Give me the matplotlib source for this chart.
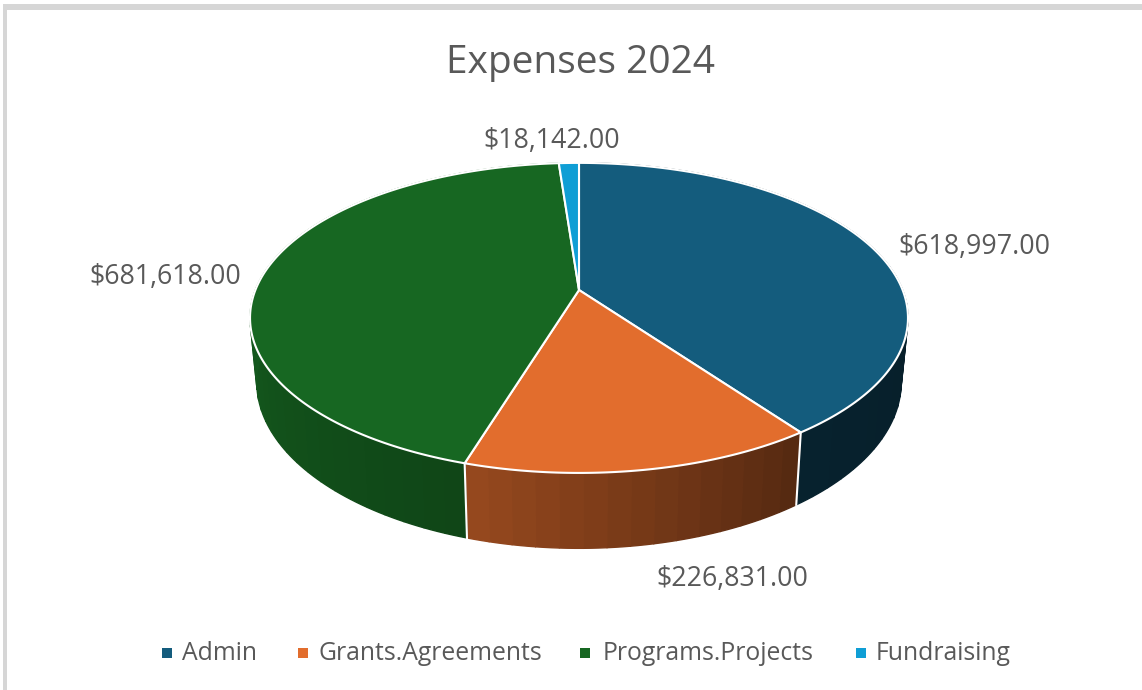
import numpy as np
import matplotlib
matplotlib.use("Agg")
import matplotlib.pyplot as plt
from matplotlib.colors import to_rgb

plt.rcParams['font.family'] = ['Open Sans', 'DejaVu Sans']

categories = ["Admin", "Grants.Agreements", "Programs.Projects", "Fundraising"]
values = [618997.00, 226831.00, 681618.00, 18142.00]
colors = ["#145C7D", "#E26D2D", "#176722", "#0F9ED5"]

# where the labels and legend sit, in pixels of the picture
label_pos = [(974, 247), (732, 579), (165, 277), (552, 141)]
legend_square_x = [167, 303, 585, 861]
legend_text_x = [182, 318, 603, 876]

# side shading against the angle round the pie
shade_angles = [0, 90, 144, 197, 270, 360]
shade_values = [0.33, 0.33, 0.37, 0.67, 0.88, 0.9]

text_color = "#595959"


def project(theta, cx, cy, a, b, k):
    # circle seen in perspective, theta clockwise from the top
    x = np.sin(theta)
    y = np.cos(theta)
    w = 1 + k * y
    return cx + a * x / w, cy - b * y / w


def top_ring(theta):
    return project(theta, 579, 290, 323.6, 150, 0.18)


def bottom_ring(theta):
    return project(theta, 579, 352, 317, 161, 0.18)


fig = plt.figure(figsize=(11.42, 6.90), dpi=100)
ax = fig.add_axes([0, 0, 1, 1])
ax.set_xlim(0, 1142)
ax.set_ylim(690, 0)
ax.axis("off")

# grey frame left over from the screenshot
ax.fill_between([3, 1142], 4, 10, color="#D6D6D6", lw=0)
ax.fill_between([3, 7], 4, 690, color="#D6D6D6", lw=0)

fractions = np.array(values) / sum(values)
edges = np.concatenate([[0], np.cumsum(fractions)]) * 2 * np.pi

# sides first, the top face hides the back half
for i in range(len(values)):
    n = max(2, int(np.degrees(edges[i + 1] - edges[i]) / 3.5) + 1)
    t = np.linspace(edges[i], edges[i + 1], n)
    for j in range(n - 1):
        tt = np.linspace(t[j], t[j + 1], 4)
        x1, y1 = top_ring(tt)
        x2, y2 = bottom_ring(tt[::-1])
        mid = np.degrees((t[j] + t[j + 1]) / 2)
        c = np.array(to_rgb(colors[i])) * np.interp(mid, shade_angles, shade_values)
        ax.fill(np.r_[x1, x2], np.r_[y1, y2], color=tuple(c), lw=1.0, zorder=2)

# white seams between the slices on the front
for e in edges:
    if np.cos(e) < 0:
        x1, y1 = top_ring(e)
        x2, y2 = bottom_ring(e)
        ax.plot([x1, x2], [y1, y2], color="white", lw=1.5, zorder=3)

# top face
for i in range(len(values)):
    t = np.linspace(edges[i], edges[i + 1], 200)
    x, y = top_ring(t)
    ax.fill(np.r_[579, x], np.r_[290, y], facecolor=colors[i], edgecolor="white",
            lw=1.5, joinstyle="round", zorder=4)

ax.text(580, 63, "Expenses 2024", fontsize=28, color=text_color, ha="center", va="center")

for v, (lx, ly) in zip(values, label_pos):
    ax.text(lx, ly, "${:,.2f}".format(v), fontsize=19.3, color=text_color, ha="center", va="center")

for name, c, sx, tx in zip(categories, colors, legend_square_x, legend_text_x):
    ax.scatter([sx], [652.5], marker="s", s=48, color=c, lw=0)
    ax.text(tx, 654, name, fontsize=17.8, color=text_color, ha="left", va="center")

fig.savefig("out.png", dpi=100)
